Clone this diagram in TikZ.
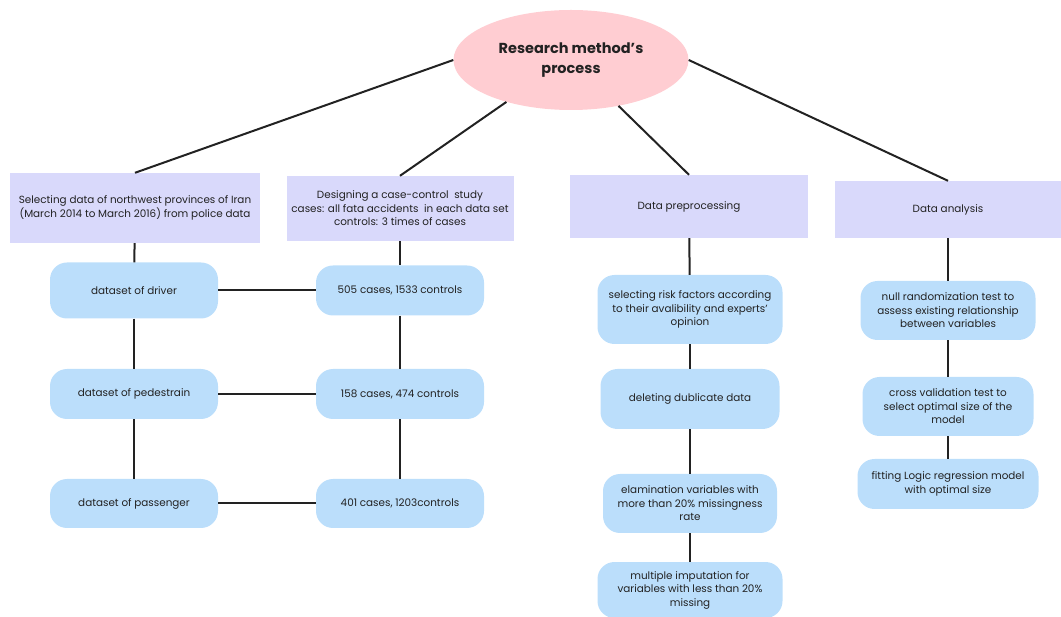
\documentclass[tikz,border=0pt]{standalone}
\usepackage{fontspec}
\setmainfont{Poppins}
\usetikzlibrary{shapes.geometric}

\definecolor{pinkfill}{HTML}{FFCDD2}
\definecolor{lavfill}{HTML}{D9D9FB}
\definecolor{bluefill}{HTML}{BBDEFB}
\definecolor{inkgray}{HTML}{222222}

\begin{document}
\begin{tikzpicture}[x=1pt,y=-1pt,
    title/.style={ellipse,fill=pinkfill,text=inkgray,align=center,
      font=\fontsize{14.5}{20}\selectfont\bfseries},
    phase/.style={rectangle,fill=lavfill,text=inkgray,align=center,
      font=\fontsize{10.4}{13.5}\selectfont},
    stage/.style={rectangle,rounded corners=17pt,fill=bluefill,text=inkgray,
      align=center,font=\fontsize{10.4}{13.5}\selectfont},
    link/.style={line width=2pt,color=inkgray}]
    % Page
    \useasboundingbox (0,0) rectangle (1061,617);

    % Root
    \node (root) [title,minimum width=235pt,minimum height=100pt] at (571,60)
      {Research method's\\process};

    % Phases
    \node (sel) [phase,minimum width=250pt,minimum height=70pt] at (135,208)
      {Selecting data of northwest provinces of Iran\\(March 2014 to March 2016) from police data};
    \node (des) [phase,minimum width=227pt,minimum height=65pt] at (400,208.5)
      {Designing a case-control\ \ study\\cases: all fata accidents\ \ in each data set\\controls: 3 times of cases};
    \node (pre) [phase,minimum width=238pt,minimum height=63pt] at (689,206.5)
      {Data preprocessing};
    \node (ana) [phase,minimum width=226pt,minimum height=57pt] at (948,209.5)
      {Data analysis};

    % Data sets
    \node (driver) [stage,minimum width=168pt,minimum height=56pt] at (134,290.5) {dataset of driver};
    \node (pedes) [stage,minimum width=168pt,minimum height=50pt] at (134,394) {dataset of pedestrain};
    \node (passe) [stage,minimum width=168pt,minimum height=49pt] at (134,503.5) {dataset of passenger};

    % Cases and controls
    \node (c505) [stage,minimum width=168pt,minimum height=50pt] at (400,290.5) {505 cases, 1533 controls};
    \node (c158) [stage,minimum width=168pt,minimum height=50pt] at (400,394) {158 cases, 474 controls};
    \node (c401) [stage,minimum width=168pt,minimum height=49pt] at (400,503.5) {401 cases, 1203controls};

    % Preprocessing steps
    \node (risk) [stage,minimum width=185pt,minimum height=69pt] at (690,309.5)
      {selecting risk factors according\\to their avalibility and experts'\\opinion};
    \node (dup) [stage,minimum width=179pt,minimum height=60pt] at (690,399)
      {deleting dublicate data};
    \node (elam) [stage,minimum width=174pt,minimum height=59pt] at (690,503.5)
      {elamination variables with\\more than 20\% missingness\\rate};
    \node (multi) [stage,minimum width=185pt,minimum height=56pt] at (690,590)
      {multiple imputation for\\variables with less than 20\%\\missing};

    % Analysis steps
    \node (null) [stage,minimum width=175pt,minimum height=59pt] at (948,310.5)
      {null randomization test to\\assess existing relationship\\between variables};
    \node (cross) [stage,minimum width=171pt,minimum height=59pt] at (948,406.5)
      {cross validation test to\\select optimal size of the\\model};
    \node (fit) [stage,minimum width=181pt,minimum height=50pt] at (948,484)
      {fitting Logic regression model\\with optimal size};

    % Root to phases
    \draw [link] (root.west) -- (sel.north);
    \draw [link] (root.213) -- (des.north);
    \draw [link] (root.316) -- (pre.north);
    \draw [link] (root.east) -- (ana.north);

    % Chains
    \foreach \a/\b in {sel/driver, driver/pedes, pedes/passe,
                       des/c505, c505/c158, c158/c401,
                       pre/risk, risk/dup, dup/elam, elam/multi,
                       ana/null, null/cross, cross/fit}
    {
      \draw [link] (\a) -- (\b);
    };

    % Rows
    \draw [link] (driver) -- (c505);
    \draw [link] (pedes) -- (c158);
    \draw [link] (passe) -- (c401);

\end{tikzpicture}
\end{document}
